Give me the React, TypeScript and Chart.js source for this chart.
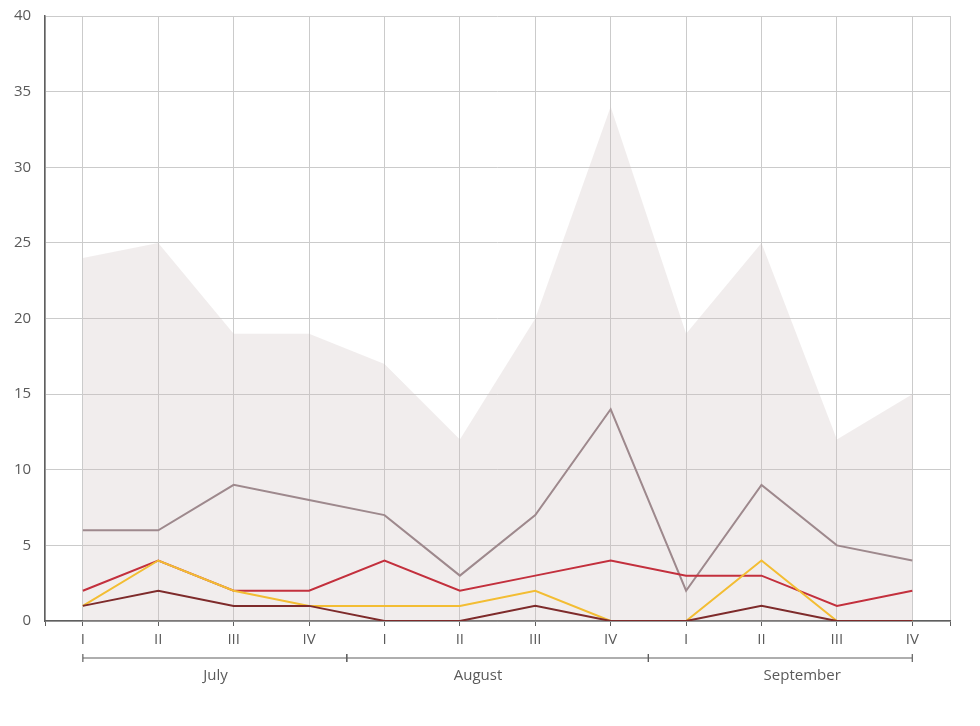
import { useEffect, useRef } from "react"
import { Chart, registerables } from "chart.js"

Chart.register(...registerables)

// weeks within each month
const weekLabels = ["I", "II", "III", "IV", "I", "II", "III", "IV", "I", "II", "III", "IV"]
const months = ["July", "August", "September"]
// first / last week index of each month group, and where the month label sits
const monthStart = [0, 3.5, 7.5]
const monthEnd = [3.5, 7.5, 11]
const monthLabelAt = [1.76, 5.24, 9.54]

const totalValues = [24, 25, 19, 19, 17, 12, 20, 34, 19, 25, 12, 15]
const mauveValues = [6, 6, 9, 8, 7, 3, 7, 14, 2, 9, 5, 4]
const redValues = [2, 4, 2, 2, 4, 2, 3, 4, 3, 3, 1, 2]
const yellowValues = [1, 4, 2, 1, 1, 1, 2, 0, 0, 4, 0, 0]
const darkValues = [1, 2, 1, 1, 0, 0, 1, 0, 0, 1, 0, 0]

const yTicks = [0, 5, 10, 15, 20, 25, 30, 35, 40]

const FONT = "'Open Sans', 'Noto Sans', sans-serif"
const TEXT = "#5a5a5a"
const AXIS = "#5f5f5f"
const GRID = "#cbcbcb"

function toPoints(values: number[]) {
  return values.map((v, i) => ({ x: i, y: v }))
}

// brackets under the week labels, one per month
const monthBrackets = {
  id: "monthBrackets",
  afterDraw(chart: Chart) {
    const { ctx } = chart
    const x = chart.scales.x
    const lineY = 658
    ctx.save()
    ctx.strokeStyle = AXIS
    ctx.lineWidth = 1.2
    months.forEach((_, i) => {
      const a = x.getPixelForValue(monthStart[i])
      const b = x.getPixelForValue(monthEnd[i])
      ctx.beginPath()
      ctx.moveTo(a, lineY)
      ctx.lineTo(b, lineY)
      ctx.moveTo(a, lineY - 4)
      ctx.lineTo(a, lineY + 4)
      ctx.moveTo(b, lineY - 4)
      ctx.lineTo(b, lineY + 4)
      ctx.stroke()
    })
    ctx.fillStyle = TEXT
    ctx.font = `15px ${FONT}`
    ctx.textAlign = "center"
    ctx.textBaseline = "middle"
    months.forEach((m, i) => {
      ctx.fillText(m, x.getPixelForValue(monthLabelAt[i]), 676)
    })
    ctx.restore()
  },
}

export default function App() {
  const chartRef = useRef<HTMLCanvasElement>(null)
  const chartInstance = useRef<Chart | null>(null)

  useEffect(() => {
    if (!chartRef.current) return
    if (chartInstance.current) chartInstance.current.destroy()
    const ctx = chartRef.current.getContext("2d")
    if (!ctx) return

    chartInstance.current = new Chart(ctx, {
      type: "line",
      data: {
        datasets: [
          {
            label: "Dark",
            data: toPoints(darkValues),
            borderColor: "#7e2b2b",
            borderWidth: 2,
            pointRadius: 0,
            fill: false,
            order: 1,
          },
          {
            label: "Yellow",
            data: toPoints(yellowValues),
            borderColor: "#f3bd33",
            borderWidth: 2,
            pointRadius: 0,
            fill: false,
            order: 2,
          },
          {
            label: "Red",
            data: toPoints(redValues),
            borderColor: "#c3303d",
            borderWidth: 2,
            pointRadius: 0,
            fill: false,
            order: 3,
          },
          {
            label: "Mauve",
            data: toPoints(mauveValues),
            borderColor: "#9e898d",
            borderWidth: 2,
            pointRadius: 0,
            fill: false,
            order: 4,
          },
          {
            label: "Total",
            data: toPoints(totalValues),
            borderWidth: 0,
            borderColor: "rgba(0,0,0,0)",
            backgroundColor: "rgba(205, 190, 190, 0.28)",
            pointRadius: 0,
            fill: "origin",
            order: 5,
          },
        ],
      },
      options: {
        animation: false,
        responsive: false,
        maintainAspectRatio: false,
        layout: {
          padding: { top: 16, right: 30, bottom: 72, left: 0 },
        },
        plugins: {
          legend: { display: false },
          tooltip: { enabled: false },
        },
        scales: {
          x: {
            type: "linear",
            min: -0.5,
            max: 11.5,
            afterBuildTicks: (scale) => {
              const vals = [-0.5, ...weekLabels.map((_, i) => i), 11.5]
              scale.ticks = vals.map((v) => ({ value: v }))
            },
            border: { color: AXIS, width: 1.5 },
            grid: {
              color: GRID,
              lineWidth: 1,
              tickColor: AXIS,
              tickLength: 5,
              drawTicks: true,
            },
            ticks: {
              autoSkip: false,
              maxRotation: 0,
              padding: 5,
              color: TEXT,
              font: { family: FONT, size: 15 },
              callback: (value) => {
                const v = Number(value)
                return Number.isInteger(v) ? weekLabels[v] : ""
              },
            },
          },
          y: {
            min: 0,
            max: 40,
            afterBuildTicks: (scale) => {
              scale.ticks = yTicks.map((v) => ({ value: v }))
            },
            afterFit: (scale) => {
              scale.paddingTop = 0
              scale.paddingBottom = 0
            },
            border: { color: AXIS, width: 1.5 },
            grid: {
              color: GRID,
              lineWidth: 1,
              drawTicks: false,
            },
            ticks: {
              padding: 14,
              color: TEXT,
              font: { family: FONT, size: 15 },
            },
          },
        },
      },
      plugins: [monthBrackets],
    })

    return () => {
      if (chartInstance.current) {
        chartInstance.current.destroy()
        chartInstance.current = null
      }
    }
  }, [])

  return (
    <div style={{ position: "fixed", left: 0, top: 0, width: 980, height: 726, background: "#fff" }}>
      <canvas ref={chartRef} width={980} height={726} style={{ width: 980, height: 726 }}></canvas>
    </div>
  )
}
